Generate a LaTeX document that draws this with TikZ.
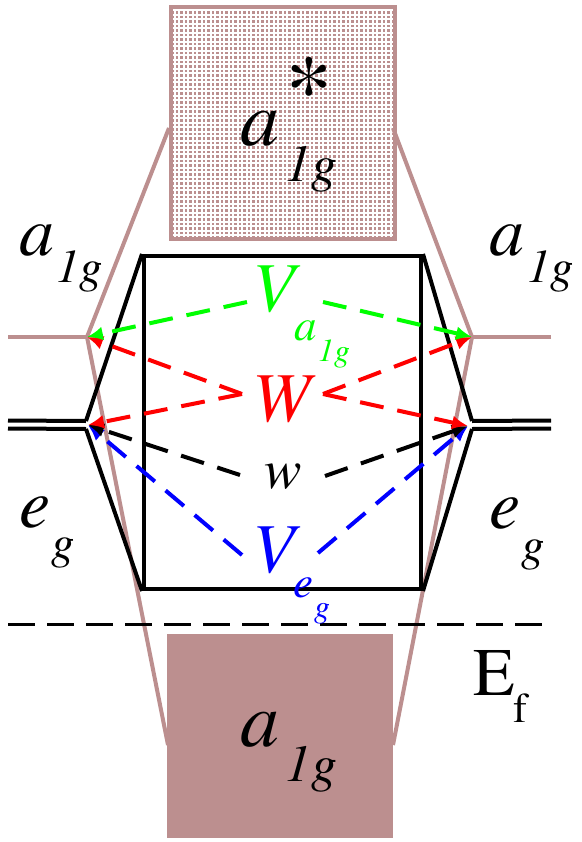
\documentclass[tikz,border=0pt]{standalone}
\usepackage{fontspec}
\setmainfont{texgyretermes}[Extension=.otf, UprightFont=*-regular, ItalicFont=*-italic, BoldFont=*-bold]
\usetikzlibrary{arrows.meta,patterns}
\definecolor{rosy}{RGB}{188,143,143}
\pgfdeclarepatternformonly{mydots}{\pgfqpoint{-1pt}{-1pt}}{\pgfqpoint{4.5pt}{4.5pt}}{\pgfqpoint{4.5pt}{4.5pt}}{\pgfpathrectangle{\pgfqpoint{0pt}{0pt}}{\pgfqpoint{2.6pt}{2.6pt}}\pgfusepath{fill}}
\newcommand\fsz[1]{\fontsize{#1}{#1}\selectfont}
\tikzset{
  lbl/.style={inner sep=0pt, anchor=base west},
  brown/.style={draw=rosy, line width=4pt},
  blk/.style={draw=black, line width=4pt, line join=miter},
  dsh/.style={line width=4pt, dash pattern=on 24pt off 14pt, -{Latex[length=16pt,width=14pt]}}
}
\begin{document}
\begin{tikzpicture}[x=1pt,y=-1pt]
\useasboundingbox (0,0) rectangle (581,842);
% boxes
\node[draw=rosy, line width=4pt, pattern=mydots, pattern color=rosy, minimum width=224pt, minimum height=232pt, inner sep=0pt, anchor=north west] (topbox) at (169,5) {};
\node[fill=rosy, minimum width=226pt, minimum height=204pt, inner sep=0pt, anchor=north west] (botbox) at (167,634) {};
% junction coordinates
\coordinate (La) at (87,337);
\coordinate (Ra) at (472,337);
\coordinate (Le) at (86,421);
\coordinate (Le2) at (86,429);
\coordinate (Re) at (472,421);
\coordinate (Re2) at (472,429);
\coordinate (Lend) at (8,337);
\coordinate (Rend) at (551,337);
\coordinate (Ltop) at (169,128);
\coordinate (Rtop) at (393,128);
\coordinate (Lbot) at (168,745);
\coordinate (Rbot) at (393,745);
% brown lines
\draw[brown] (Lend) -- (La);
\draw[brown] (Rend) -- (Ra);
\draw[brown, line join=miter] (Ltop) -- (La) -- (Lbot);
\draw[brown, line join=miter] (Rtop) -- (Ra) -- (Rbot);
% square and hexagon
\node[draw, line width=4pt, minimum width=277pt, minimum height=333pt, inner sep=0pt, anchor=north west] (sq) at (142,254) {};
\draw[blk] (sq.north west) -- (Le);
\draw[blk] (Le2) -- (sq.south west);
\draw[blk] (sq.north east) -- (Re);
\draw[blk] (Re2) -- (sq.south east);
\coordinate (dl1) at (8,420.5);
\coordinate (dl2) at (8,428.5);
\coordinate (dr1) at (551,420.5);
\coordinate (dr2) at (551,428.5);
\draw[line width=4pt] (dl1) -- (Le);
\draw[line width=4pt] (dl2) -- (Le2);
\draw[line width=4pt] (dr1) -- (Re);
\draw[line width=4pt] (dr2) -- (Re2);
% E_f dashed line
\coordinate (fl) at (8,624);
\coordinate (fr) at (552,624);
\draw[line width=3pt, dash pattern=on 27pt off 12pt] (fl) -- (fr);
% labels
\node[lbl] (topa) at (240,146) {\fsz{78}\itshape a};
\node[lbl] (top1g) at (285,182) {\fsz{52}\itshape 1g};
\node[lbl] (star) at (285,122) {\fsz{95}*};
\node[lbl] (lefta) at (19,255) {\fsz{70}\itshape a};
\node[lbl] (left1g) at (56,282) {\fsz{47}\itshape 1g};
\node[lbl] (righta) at (489,255) {\fsz{70}\itshape a};
\node[lbl] (right1g) at (527,282) {\fsz{47}\itshape 1g};
\node[lbl] (lefte) at (19,527) {\fsz{70}\itshape e};
\node[lbl] (leftg) at (51,558) {\fsz{47}\itshape g};
\node[lbl] (righte) at (489,528) {\fsz{70}\itshape e};
\node[lbl] (rightg) at (521,560) {\fsz{47}\itshape g};
\node[lbl] (bota) at (240,746) {\fsz{78}\itshape a};
\node[lbl] (bot1g) at (285,781) {\fsz{52}\itshape 1g};
\node[lbl, text=green] (Vg) at (252,311) {\fsz{70}\itshape V};
\node[lbl, text=green] (Vga) at (294,340) {\fsz{45}\itshape a};
\node[lbl, text=green] (Vg1g) at (318,361) {\fsz{32}\itshape 1g};
\node[lbl, text=red] (W) at (252,421) {\fsz{70}\itshape W};
\node[lbl] (w) at (264,488) {\fsz{56}\itshape w};
\node[lbl, text=blue] (Vb) at (252,572) {\fsz{70}\itshape V};
\node[lbl, text=blue] (Vbe) at (293,597) {\fsz{45}\itshape e};
\node[lbl, text=blue] (Vbg) at (314,617) {\fsz{32}\itshape g};
\node[lbl] (E) at (473,695) {\fsz{68}E};
\node[lbl] (f) at (513,722) {\fsz{42}f};
% dashed connectors
\coordinate (gL) at (247,302);
\coordinate (gR) at (323,302);
\coordinate (rL) at (242,394);
\coordinate (rR) at (323,394);
\coordinate (kL) at (240,475);
\coordinate (kR) at (325,476);
\coordinate (bL) at (242,555);
\coordinate (bR) at (318,553);
\coordinate (tL) at (88,425);
\coordinate (tR) at (468,426);
\draw[dsh, blue] (bL) -- (tL);
\draw[dsh, blue] (bR) -- (tR);
\draw[dsh, black] (kL) -- (tL);
\draw[dsh, black] (kR) -- (tR);
\draw[dsh, red] (rL) -- (La);
\draw[dsh, red] (rL) -- (tL);
\draw[dsh, red] (rR) -- (Ra);
\draw[dsh, red] (rR) -- (tR);
\draw[dsh, green] (gL) -- (La);
\draw[dsh, green] (gR) -- (Ra);
\end{tikzpicture}
\end{document}
